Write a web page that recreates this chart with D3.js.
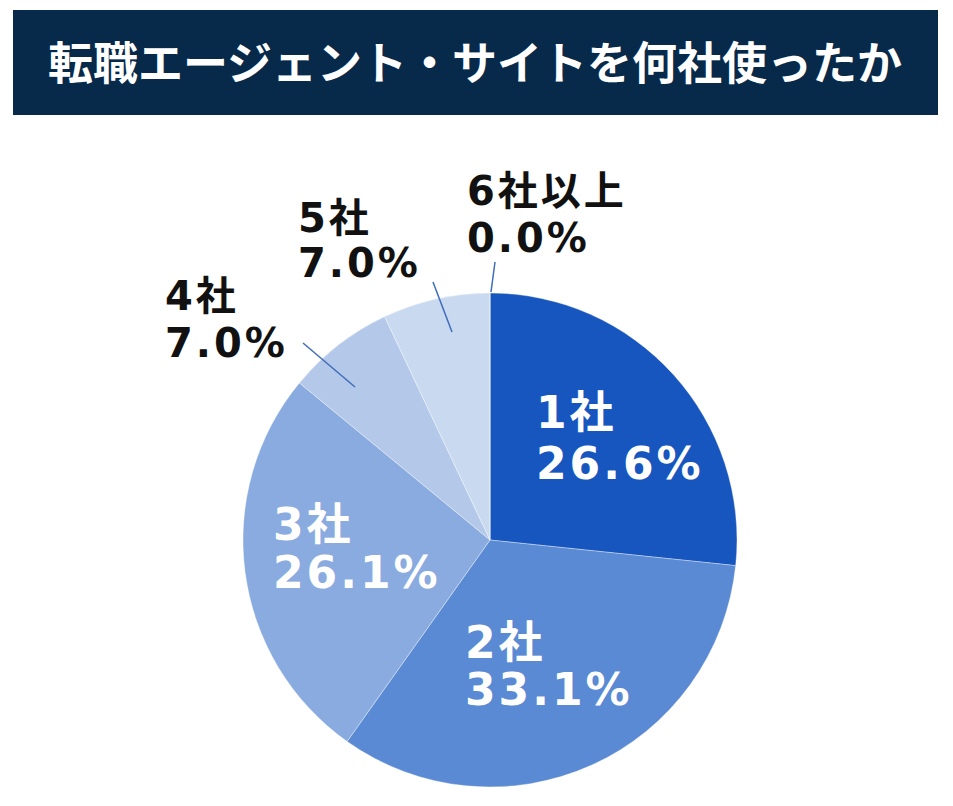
<!DOCTYPE html>
<html><head><meta charset="utf-8">
<script src="https://cdn.jsdelivr.net/npm/d3@7"></script>
<style>html,body{margin:0;padding:0;background:#fff;}</style>
</head><body>
<script>
const title = "転職エージェント・サイトを何社使ったか";
const categories = ["1社", "2社", "3社", "4社", "5社", "6社以上"];
const values = [26.6, 33.1, 26.1, 7.0, 7.0, 0.0];
const valueLabels = ["26.6%", "33.1%", "26.1%", "7.0%", "7.0%", "0.0%"];
const colors = ["#1756BE", "#5A8AD3", "#8AABE0", "#B4C8E9", "#C9D9F0", "#DCE6F5"];

const W = 953, H = 806;
const svg = d3.select("body").append("svg").attr("width", W).attr("height", H);

// title bar
svg.append("rect").attr("x", 13).attr("y", 10).attr("width", 925).attr("height", 105).attr("fill", "#07294A");
svg.append("text").attr("x", 475).attr("y", 80).attr("text-anchor", "middle")
  .attr("fill", "#fff").attr("font-family", "'Noto Sans CJK JP', sans-serif")
  .attr("font-weight", 700).attr("font-size", 45).text(title);

const cx = 490, cy = 540, R = 247;
const g = svg.append("g").attr("transform", `translate(${cx},${cy})`);
const pie = d3.pie().sort(null).value(d => d.v).startAngle(0).endAngle(2 * Math.PI);
const data = categories.map((c, i) => ({c, v: values[i], l: valueLabels[i], col: colors[i]}));
const arcs = pie(data);
const arc = d3.arc().innerRadius(0).outerRadius(R);
g.selectAll("path").data(arcs).join("path").attr("d", arc).attr("fill", d => d.data.col)
  .attr("stroke", "rgba(255,255,255,0.35)").attr("stroke-width", 1);

const font = "'DejaVu Sans', 'Noto Sans CJK JP', sans-serif";
// label placements (relative to pie center): inside labels white, outside labels black
const place = {
  "1社":   {x: 46,  y: -112, lh: 51, fs: 44, fill: "#fff"},
  "2社":   {x: -25, y: 118,  lh: 47, fs: 44, fill: "#fff"},
  "3社":   {x: -217, y: 0,   lh: 48, fs: 44, fill: "#fff"},
  "4社":   {x: -325, y: -230, lh: 47, fs: 40, fill: "#111", line: [[-187, -197], [-135, -153]]},
  "5社":   {x: -192, y: -308, lh: 45, fs: 40, fill: "#111", line: [[-57, -258], [-38, -208]]},
  "6社以上": {x: -23, y: -335, lh: 47, fs: 40, fill: "#111", line: [[5, -278], [1, -248]]}
};
arcs.forEach(a => {
  const p = place[a.data.c];
  if (p.line) {
    g.append("line").attr("x1", p.line[0][0]).attr("y1", p.line[0][1])
      .attr("x2", p.line[1][0]).attr("y2", p.line[1][1])
      .attr("stroke", "#3F6DB8").attr("stroke-width", 1.5);
  }
  const t = g.append("text").attr("font-family", font).attr("font-weight", 700)
    .attr("font-size", p.fs).attr("fill", p.fill).attr("letter-spacing", 3);
  t.append("tspan").attr("x", p.x).attr("y", p.y).text(a.data.c);
  t.append("tspan").attr("x", p.x).attr("y", p.y + p.lh).text(a.data.l);
});
</script>
</body></html>
